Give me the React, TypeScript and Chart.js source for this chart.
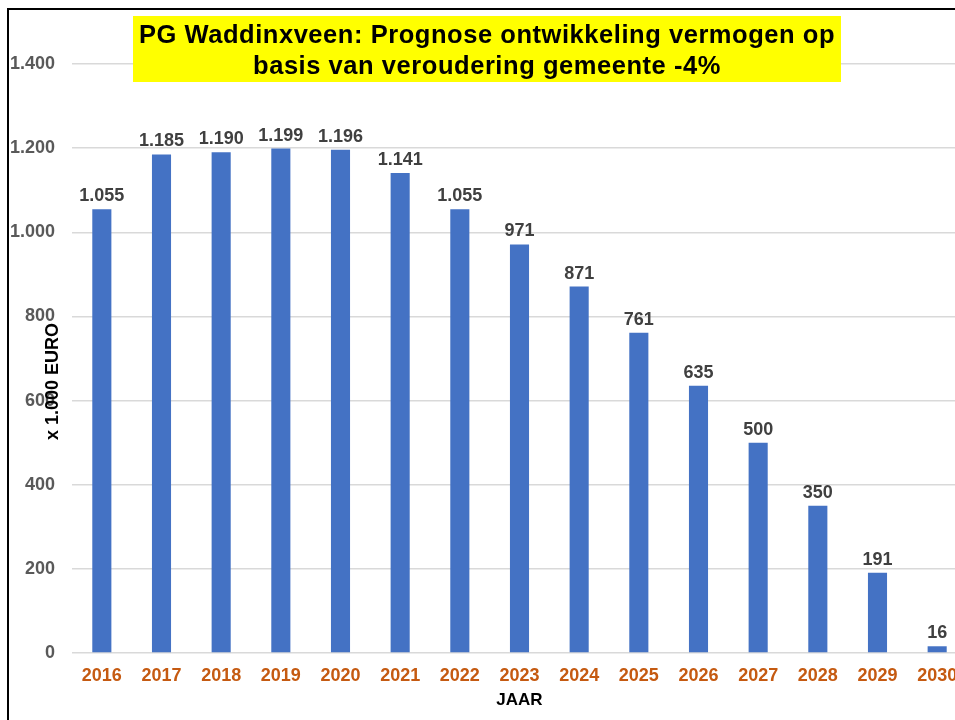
import { useEffect, useRef } from "react";
import { Chart, registerables } from "chart.js";

Chart.register(...registerables);

const years = ["2016", "2017", "2018", "2019", "2020", "2021", "2022", "2023", "2024", "2025", "2026", "2027", "2028", "2029", "2030"];
const vermogen = [1055, 1185, 1190, 1199, 1196, 1141, 1055, 971, 871, 761, 635, 500, 350, 191, 16];
const yMin = 0;
const yMax = 1400;
const yStep = 200;
const titleLines = ["PG Waddinxveen: Prognose ontwikkeling vermogen op", "basis van veroudering gemeente -4%"];
const yTitle = "x 1.000 EURO";
const xTitle = "JAAR";

const FONT = '"Liberation Sans", Arial, Helvetica, sans-serif';

const fmt = (v: number) => String(Math.round(v)).replace(/\B(?=(\d{3})+(?!\d))/g, ".");

const overlayPlugin = {
  id: "overlay",
  afterDatasetsDraw(chart: any) {
    const ctx = chart.ctx as CanvasRenderingContext2D;
    const meta = chart.getDatasetMeta(0);
    ctx.save();
    ctx.font = `bold 18px ${FONT}`;
    ctx.fillStyle = "#404040";
    ctx.textAlign = "center";
    ctx.textBaseline = "alphabetic";
    meta.data.forEach((el: any, i: number) => {
      ctx.fillText(fmt(vermogen[i]), el.x, el.y - 8);
    });
    ctx.restore();
  },
  afterDraw(chart: any) {
    const ctx = chart.ctx as CanvasRenderingContext2D;
    const a = chart.chartArea;
    ctx.save();
    // axis titles
    ctx.fillStyle = "#000";
    ctx.font = `bold 17px ${FONT}`;
    ctx.textAlign = "center";
    ctx.textBaseline = "middle";
    ctx.fillText(xTitle, (a.left + a.right) / 2, a.bottom + 47);
    ctx.save();
    ctx.translate(a.left - 19, (a.top + a.bottom) / 2 + 23);
    ctx.rotate(-Math.PI / 2);
    ctx.font = `bold 18px ${FONT}`;
    ctx.fillText(yTitle, 0, 0);
    ctx.restore();
    // title box
    ctx.fillStyle = "#FFFF00";
    ctx.fillRect(133, 16, 708, 66);
    ctx.fillStyle = "#000";
    ctx.font = `bold 25.5px ${FONT}`;
    (ctx as any).letterSpacing = "0.55px";
    ctx.textAlign = "center";
    ctx.textBaseline = "alphabetic";
    ctx.fillText(titleLines[0], 487, 43);
    ctx.fillText(titleLines[1], 487, 74);
    ctx.restore();
  },
};

export default function App() {
  const ref = useRef<HTMLCanvasElement>(null);
  useEffect(() => {
    const chart = new Chart(ref.current!, {
      type: "bar",
      data: {
        labels: years,
        datasets: [
          {
            data: vermogen,
            backgroundColor: "#4472C4",
            borderColor: "#8EA9DB",
            borderWidth: 0,
            barPercentage: 0.32,
            categoryPercentage: 1,
          },
        ],
      },
      options: {
        responsive: false,
        animation: false,
        layout: { padding: { left: 0, right: 8, top: 64, bottom: 0 } },
        plugins: { legend: { display: false }, tooltip: { enabled: false }, title: { display: false } },
        scales: {
          x: {
            grid: { display: false, drawTicks: false },
            border: { display: false },
            ticks: { color: "#C55A11", font: { family: FONT, size: 18, weight: "bold" }, padding: 12, maxRotation: 0, autoSkip: false },
            afterFit: (s: any) => { s.height = 67; },
          },
          y: {
            min: yMin,
            max: yMax,
            grid: { color: "#D9D9D9", lineWidth: 1.5, drawTicks: false },
            border: { display: false },
            ticks: {
              stepSize: yStep,
              color: "#595959",
              font: { family: FONT, size: 18, weight: "bold" },
              padding: 17,
              callback: (v: any) => fmt(Number(v)),
            },
            afterFit: (s: any) => { s.width = 72; },
          },
        },
      },
      plugins: [overlayPlugin],
    });
    return () => chart.destroy();
  }, []);
  return (
    <div style={{ position: "fixed", left: 0, top: 0, width: 955, height: 720, overflow: "hidden", background: "#fff" }}>
      <div style={{ position: "absolute", left: 7, top: 8, width: 1000, height: 800, borderLeft: "2.5px solid #000", borderTop: "2.5px solid #000" }} />
      <div style={{ position: "absolute", left: 0, top: 0, width: 975, height: 720 }}>
        <canvas ref={ref} width={975} height={720} style={{ display: "block" }} />
      </div>
    </div>
  );
}
